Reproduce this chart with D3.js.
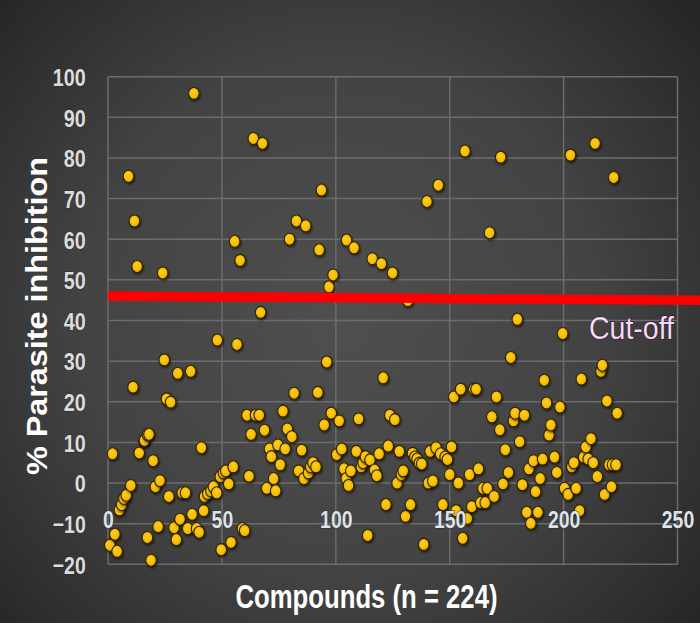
<!DOCTYPE html>
<html><head><meta charset="utf-8">
<script src="https://cdn.jsdelivr.net/npm/d3@7"></script>
<style>html,body{margin:0;padding:0;background:#333;}svg{display:block;}</style>
</head><body>
<script>
// compound index (x) and % parasite inhibition (y)
const compoundX = [2,0.8,3,4,5,6,7,8,9,10,11,11.6,12.8,13.7,15.7,16,17.3,18,17.3,18.9,19.8,20.8,22,22.8,24,24.7,25.7,27.5,26.7,29,30,30.6,31.6,32.6,34,35,36.3,36.9,37.7,38.9,40,41,42,42.4,43.8,45.2,46.3,47.7,48,49.3,49.7,50.7,51.7,53,54,55,55.6,56.6,58,59,60,61,61.9,62.8,63.8,64.8,66.4,67.8,67,68.7,69.7,70.9,71.7,72.7,73.6,74.6,75.6,76.8,77.8,78.7,79.7,80.7,81.7,82.7,83.7,85,86,86.8,88,89,90,91.3,92.1,92.7,93.7,94.9,96,97,98,98.8,100.4,101.5,102.6,103.6,104.6,104.7,105.6,106.6,108,109,110,111.2,112,113,114,115,116,117,118,119,120,120.8,122,123,123.7,124.9,125.9,126.9,127.9,128.8,129.6,130.6,131.6,132.8,133.7,134.7,135.7,136.7,137.7,138.6,140,140.6,141.4,142.6,144,145,146,147,148,149,150,150.8,151.8,152.8,153.8,154.8,155.7,156.7,157.7,158.7,159.7,160.6,161.6,162.6,163.6,164.6,165.6,166.5,167.5,168.5,169.5,170.5,172,172.4,173.4,174.4,175.8,176.8,178,178.7,179.7,180.7,181.9,182.8,183.8,184.8,185.6,186.8,187.7,188.7,189.7,190.8,191.5,192.5,193.6,194.4,196,197,198.4,199.6,200.4,202,203,203.6,204.5,205.5,207,207.8,208.8,209.8,210.8,212,213,213.8,214.8,216.4,217,218,219,220,221,221.5,222,223,223.5];
const inhibition = [7.2,-15.3,-12.6,-16.8,-6.6,-5.3,-3.8,-3.0,75.5,-0.6,23.6,64.5,53.3,7.4,10.4,10.5,11.9,12,-13.4,-19,5.5,-0.9,-10.7,0.6,51.7,30.3,20.7,19.9,-3.3,-11,-13.9,27,-8.9,-2.4,-2.4,-11.2,27.5,-7.7,95.9,-11.2,-12.1,8.7,-6.8,-3.3,-2.6,-1.9,-0.9,-2.4,35.2,1.6,-16.4,2.5,3,-0.2,-14.6,4,59.5,34.1,54.8,-11.2,-11.7,16.7,1.7,12,84.8,16.7,16.7,83.6,42,13,-1.3,8.4,6.5,1.1,-1.9,9.4,4.5,17.7,8.4,13.3,60,11.4,22.1,64.5,3,8.1,1.1,63.3,2.5,4,5,4,22.3,57.4,72.1,14.3,29.8,48.3,17.2,51.2,7,15.3,8.4,3.5,1.1,59.8,-0.6,3,57.9,7.8,15.8,4,5,6.5,-12.9,5.7,55.2,3.2,1.8,7.2,54,25.9,-5.3,9.1,16.7,51.7,15.6,0,7.8,2.1,3,-8.2,44.9,-5.3,7.3,6.4,5.9,4.9,4.7,-15.1,69.3,0,7.8,0.5,8.7,73.3,7.2,-5.3,6.4,5.8,2.1,8.9,21.2,-6.8,0,23.1,-13.6,81.7,-8.7,2.1,-5.8,23.1,23.1,3.5,-4.8,-1.3,-4.8,-1.3,61.6,16.3,-3.3,21.2,13.1,80.2,-0.2,8.2,2.6,30.9,15.3,17.2,40.3,10.2,-0.4,16.7,-7.2,3.5,-9.9,5.5,-2.1,-7.2,1.1,5.9,25.3,19.7,11.8,14.3,6.4,2.6,18.7,36.8,-1.3,-2.8,80.7,4,5,-1.3,-6.8,25.6,6.4,8.9,5.9,10.9,5,83.6,1.6,27.5,29,-2.8,20.2,4.5,-0.9,4.5,75.2,4.5,17.2];
const xTicks = [0, 50, 100, 150, 200, 250];
const yTicks = [-20, -10, 0, 10, 20, 30, 40, 50, 60, 70, 80, 90, 100];
const cutoffX = [0, 260];
const cutoffY = [46, 45];
const cutoffLabel = "Cut-off";
const xTitle = "Compounds (n = 224)";
const yTitle = "% Parasite inhibition";

const W = 700, H = 623;
const svg = d3.select("body").append("svg").attr("width", W).attr("height", H);
const defs = svg.append("defs");
const bg = defs.append("radialGradient").attr("id","bg")
  .attr("gradientUnits","userSpaceOnUse").attr("cx",340).attr("cy",320).attr("r",470);
bg.append("stop").attr("offset","0").attr("stop-color","#4f4f4f");
bg.append("stop").attr("offset","0.55").attr("stop-color","#434343");
bg.append("stop").attr("offset","1").attr("stop-color","#262626");
const dg = defs.append("radialGradient").attr("id","dot").attr("cx","45%").attr("cy","40%").attr("r","60%");
dg.append("stop").attr("offset","0").attr("stop-color","#ffcf1a");
dg.append("stop").attr("offset","1").attr("stop-color","#f2b100");
const sh = defs.append("filter").attr("id","sh").attr("x","-50%").attr("y","-50%").attr("width","200%").attr("height","200%");
sh.append("feDropShadow").attr("dx",1).attr("dy",1.5).attr("stdDeviation",1.2).attr("flood-color","#000").attr("flood-opacity",0.6);

svg.append("rect").attr("width",W).attr("height",H).attr("fill","url(#bg)");

const x = d3.scaleLinear().domain([0, 250]).range([108, 677.5]);
const y = d3.scaleLinear().domain([-20, 100]).range([564.3, 76.7]);

// gridlines
const g = svg.append("g");
g.selectAll("line.h").data(yTicks).join("line")
  .attr("x1", x(0)).attr("x2", x(250)).attr("y1", d=>y(d)).attr("y2", d=>y(d))
  .attr("stroke","#6c6c6c").attr("stroke-width",1.5);
g.selectAll("line.v").data(xTicks).join("line")
  .attr("y1", y(-20)).attr("y2", y(100)).attr("x1", d=>x(d)).attr("x2", d=>x(d))
  .attr("stroke","#6c6c6c").attr("stroke-width",1.5);

// y tick labels via axis
const yAxis = svg.append("g").attr("transform", `translate(${x(0)-22.3},0)`)
  .call(d3.axisLeft(y).tickValues(yTicks).tickSize(0).tickPadding(0));
yAxis.select(".domain").remove();
yAxis.selectAll("text").attr("font-family","Liberation Sans, Arial, sans-serif")
  .attr("font-weight","bold").attr("font-size",24.5).attr("fill","#dcdcdc")
  .attr("textLength", function(){ const t=this.textContent; return t.replace("−","-").length*11 - (t.length>2&&t[0]!=="−"?0:0); })
  .attr("lengthAdjust","spacingAndGlyphs")
  .attr("stroke","#2a2a2a").attr("stroke-width",0.8).attr("paint-order","stroke")
  .attr("dy","0.36em");

// points
svg.append("g").selectAll("ellipse").data(compoundX.map((d,i)=>[d, inhibition[i]])).join("ellipse")
  .attr("cx", d=>x(d[0])).attr("cy", d=>y(d[1])).attr("rx",5.3).attr("ry",6)
  .attr("fill","url(#dot)").attr("stroke","#2e2500").attr("stroke-width",1.1)
  .attr("filter","url(#sh)");

// x tick labels via axis (drawn on top of points)
const xAxis = svg.append("g").attr("transform", `translate(0,${y(-10)+4.5})`)
  .call(d3.axisBottom(x).tickValues(xTicks).tickSize(0).tickPadding(0));
xAxis.select(".domain").remove();
xAxis.selectAll("text").attr("font-family","Liberation Sans, Arial, sans-serif")
  .attr("font-weight","bold").attr("font-size",23).attr("fill","#dde3ea")
  .attr("textLength", function(){ return this.textContent.length*10.8; })
  .attr("lengthAdjust","spacingAndGlyphs")
  .attr("stroke","#2a2a2a").attr("stroke-width",0.9).attr("paint-order","stroke")
  .attr("dy","0em");

// cutoff line
svg.append("line")
  .attr("x1", x(cutoffX[0])).attr("y1", y(cutoffY[0]))
  .attr("x2", x(cutoffX[1])).attr("y2", y(cutoffY[1]))
  .attr("stroke","#ff0000").attr("stroke-width",9.5);

svg.append("text").attr("x", 589).attr("y", 339).text(cutoffLabel)
  .attr("font-family","Liberation Sans, Arial, sans-serif").attr("font-size",32)
  .attr("textLength",85).attr("lengthAdjust","spacingAndGlyphs")
  .attr("fill","#f7d8f5").attr("stroke","#2a1f2a").attr("stroke-width",1.3).attr("paint-order","stroke");

// axis titles
svg.append("text").attr("x", 366.5).attr("y", 608).attr("text-anchor","middle").text(xTitle)
  .attr("font-family","Liberation Sans, Arial, sans-serif").attr("font-weight","bold").attr("font-size",33)
  .attr("textLength",262).attr("lengthAdjust","spacingAndGlyphs").attr("fill","#ffffff");

svg.append("text").attr("transform","translate(47,316) rotate(-90)").attr("text-anchor","middle").text(yTitle)
  .attr("font-family","Liberation Sans, Arial, sans-serif").attr("font-weight","bold").attr("font-size",30)
  .attr("textLength",318).attr("lengthAdjust","spacingAndGlyphs").attr("fill","#ffffff");
</script>
</body></html>
